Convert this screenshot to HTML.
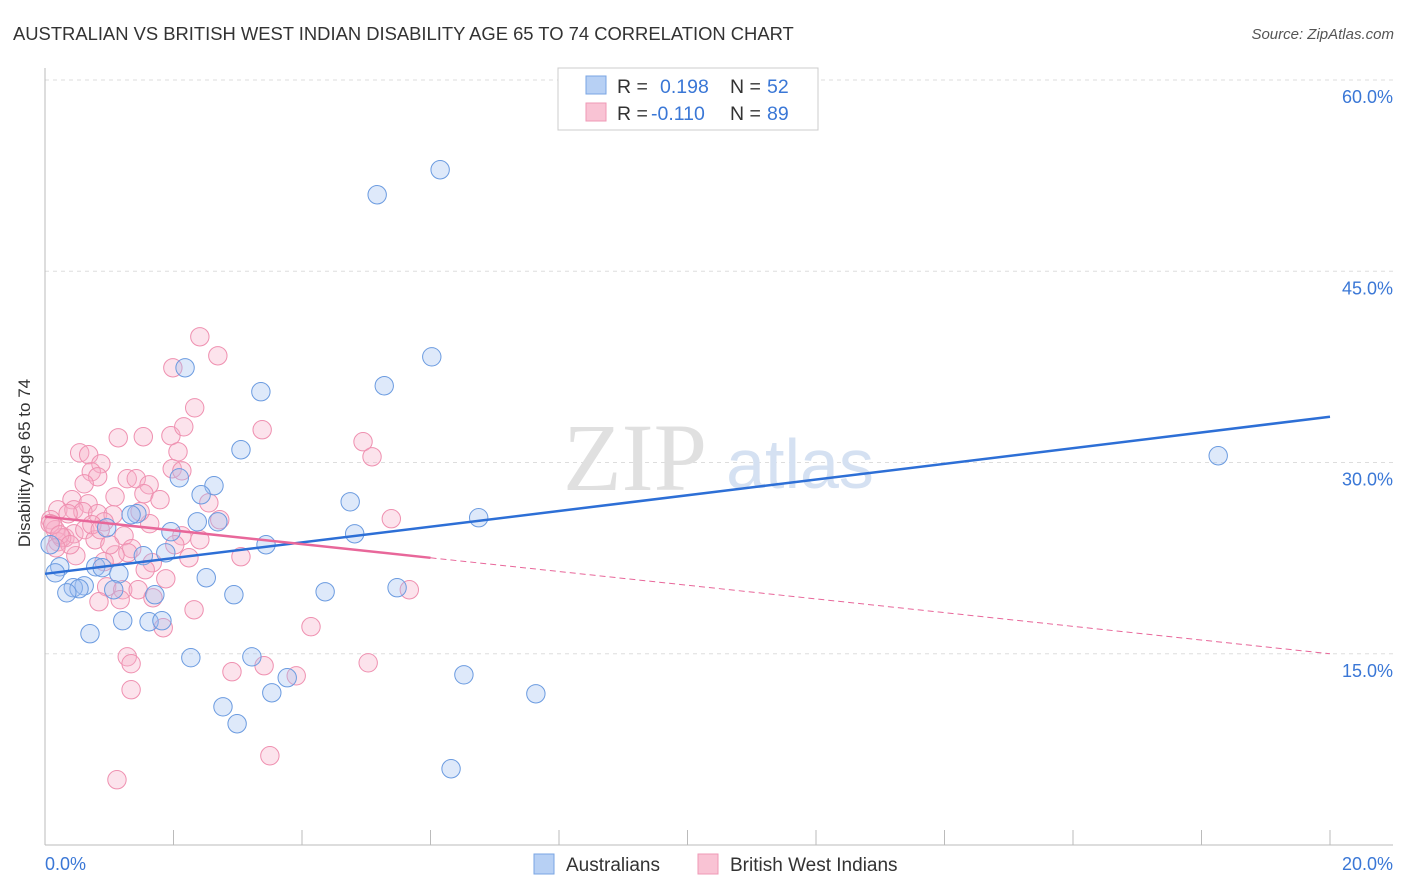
<!DOCTYPE html>
<html><head><meta charset="utf-8"><style>
body{margin:0;background:#fff;font-family:"Liberation Sans",sans-serif;}
svg{display:block}
</style></head><body>
<svg id="chart" width="1406" height="892">
<text x="13" y="40" font-size="18.4" fill="#333">AUSTRALIAN VS BRITISH WEST INDIAN DISABILITY AGE 65 TO 74 CORRELATION CHART</text>
<text x="1394" y="39" font-size="15" fill="#555" font-style="italic" text-anchor="end">Source: ZipAtlas.com</text>
<g id="grid"></g>
<g id="axes"></g>
<g><text x="635" y="490" font-size="96" fill="#e0e0e0" font-family="Liberation Serif,serif" text-anchor="middle">ZIP</text><text x="800" y="488" font-size="70" fill="#d5e1f2" text-anchor="middle">atlas</text></g>
<g id="pts"></g>
<g id="lines"></g>
<text x="22" y="455" font-size="17" fill="#333" transform="rotate(-90 30 455)" text-anchor="middle">Disability Age 65 to 74</text>
<g>
<rect x="558" y="68" width="260" height="62" fill="#fff" stroke="#ccc"/>
<rect x="586" y="76" width="20" height="18" fill="#b7d0f4" stroke="#7aa5e3"/>
<rect x="586" y="103" width="20" height="18" fill="#f9c3d4" stroke="#ef98b6"/>
<text x="617" y="93" font-size="19.5" fill="#333">R = </text><text x="660" y="93" font-size="19.5" fill="#3a77d6">0.198</text>
<text x="730" y="93" font-size="19.5" fill="#333">N = </text><text x="767" y="93" font-size="19.5" fill="#3a77d6">52</text>
<text x="617" y="120" font-size="19.5" fill="#333">R = </text><text x="651" y="120" font-size="19.5" fill="#3a77d6">-0.110</text>
<text x="730" y="120" font-size="19.5" fill="#333">N = </text><text x="767" y="120" font-size="19.5" fill="#3a77d6">89</text>
</g>
<g>
<rect x="534" y="854" width="20" height="20" fill="#b7d0f4" stroke="#7aa5e3"/>
<text x="566" y="871" font-size="19" fill="#333">Australians</text>
<rect x="698" y="854" width="20" height="20" fill="#f9c3d4" stroke="#ef98b6"/>
<text x="730" y="871" font-size="19" fill="#333">British West Indians</text>
</g>
</svg>
<script>
const blueX=[6.15,5.17,6.02,2.18,5.28,3.36,3.05,18.26,2.09,2.63,2.43,4.75,1.43,1.34,6.75,2.37,2.69,0.96,1.96,4.82,3.44,1.88,1.53,0.23,0.16,0.79,0.89,1.15,2.51,0.61,0.44,0.53,0.34,1.07,2.94,5.48,4.36,1.71,1.21,1.62,1.82,0.70,2.27,3.22,3.77,6.52,3.53,7.64,2.77,2.99,6.32,0.08];
const blueY=[52.96,51.0,38.29,37.43,36.02,35.55,31.0,30.53,28.8,28.18,27.47,26.92,25.98,25.9,25.67,25.35,25.35,24.88,24.57,24.41,23.55,22.92,22.69,21.82,21.35,21.82,21.75,21.27,20.96,20.33,20.18,20.1,19.78,20.02,19.63,20.18,19.86,19.63,17.59,17.51,17.59,16.57,14.69,14.76,13.12,13.35,11.94,11.86,10.84,9.51,5.98,23.55];
const pinkX=[2.41,2.69,1.99,2.33,3.38,1.14,1.96,1.53,2.16,0.54,4.95,0.68,5.09,2.07,0.87,1.98,2.13,0.72,0.82,1.28,1.42,0.61,1.62,1.54,0.42,2.55,0.67,1.09,0.20,0.45,0.59,0.82,1.06,0.36,5.39,1.63,0.09,0.92,1.23,0.16,0.31,2.13,0.45,0.20,0.08,0.26,1.35,1.29,1.09,3.05,2.24,0.48,1.67,0.92,1.88,0.96,1.21,1.45,5.67,1.68,0.84,2.32,4.14,1.84,1.28,3.41,1.34,5.03,2.91,3.91,1.34,3.5,1.12,0.12,0.23,0.62,0.78,1.01,1.48,1.79,0.39,0.73,1.17,1.56,2.02,2.41,2.72,0.17,0.86];
const pinkY=[39.86,38.37,37.43,34.29,32.57,31.94,32.1,32.02,32.8,30.76,31.63,30.61,30.45,30.84,29.9,29.51,29.35,29.27,28.88,28.73,28.73,28.33,28.25,27.55,27.08,26.84,26.76,27.31,26.29,26.29,26.14,25.98,25.9,25.98,25.59,25.2,25.51,25.35,24.25,24.73,24.1,24.25,24.41,23.78,25.2,24.1,23.24,22.92,22.76,22.61,22.53,22.69,22.14,22.22,20.88,20.25,20.02,20.02,20.02,19.39,19.08,18.45,17.12,17.04,14.76,14.06,14.22,14.29,13.59,13.27,12.18,7.0,5.12,25.12,24.33,24.73,23.94,23.55,26.14,27.08,23.55,25.12,19.24,21.59,23.55,23.94,25.51,23.31,24.73];
const yTicks=[15,30,45,60];
const yTickLabels=["15.0%","30.0%","45.0%","60.0%"];
const xTicks=[0,2,4,6,8,10,12,14,16,18,20];
const blueTrend=[21.27,33.59];
const pinkTrend=[25.75,15.0];
const pinkSolidEnd=6;
const X=v=>45+v*64.25, Y=v=>845-v*12.75;
const NS="http://www.w3.org/2000/svg";
function mk(t,a,p){const e=document.createElementNS(NS,t);for(const k in a)e.setAttribute(k,a[k]);p.appendChild(e);return e;}
const grid=document.getElementById('grid'),axes=document.getElementById('axes');
yTicks.forEach((t,i)=>{
 const l=mk('line',{x1:45,x2:1393,y1:Y(t),y2:Y(t),stroke:'#ddd','stroke-dasharray':'4,4'},grid);
 
 
 const tx=mk('text',{x:1393,y:Y(t)+23,'font-size':18,fill:'#3a77d6','text-anchor':'end'},axes);
 tx.textContent=yTickLabels[i];
 
 
});
mk('line',{x1:45,x2:45,y1:68,y2:845,stroke:'#bbb'},axes);
mk('line',{x1:45,x2:1393,y1:845,y2:845,stroke:'#bbb'},axes);
xTicks.forEach(t=>{const l=mk('line',{x1:X(t),x2:X(t),y1:830,y2:845,stroke:'#bbb'},axes);
 
 });
let a=mk('text',{x:45,y:870,'font-size':18,fill:'#3a77d6'},axes);a.textContent="0.0%";


a=mk('text',{x:1393,y:870,'font-size':18,fill:'#3a77d6','text-anchor':'end'},axes);a.textContent="20.0%";


const pts=document.getElementById('pts');
pinkX.forEach((x,i)=>{const c=mk('circle',{cx:X(x),cy:Y(pinkY[i]),r:9.2,fill:'rgba(247,176,200,0.35)',stroke:'#ef90b0','stroke-width':1},pts);
 
 });
blueX.forEach((x,i)=>{const c=mk('circle',{cx:X(x),cy:Y(blueY[i]),r:9.2,fill:'rgba(160,192,240,0.35)',stroke:'#6b9be0','stroke-width':1},pts);
 
 });
const lines=document.getElementById('lines');
let l=mk('line',{x1:X(0),y1:Y(blueTrend[0]),x2:X(20),y2:Y(blueTrend[1]),stroke:'#2d6fd6','stroke-width':2.5},lines);


const pv=x=>pinkTrend[0]+(pinkTrend[1]-pinkTrend[0])*x/20;
l=mk('line',{x1:X(0),y1:Y(pv(0)),x2:X(pinkSolidEnd),y2:Y(pv(pinkSolidEnd)),stroke:'#e8679a','stroke-width':2.5},lines);


l=mk('line',{x1:X(pinkSolidEnd),y1:Y(pv(pinkSolidEnd)),x2:X(20),y2:Y(pv(20)),stroke:'#e8679a','stroke-width':1,'stroke-dasharray':'6,4'},lines);


</script>
</body></html>
